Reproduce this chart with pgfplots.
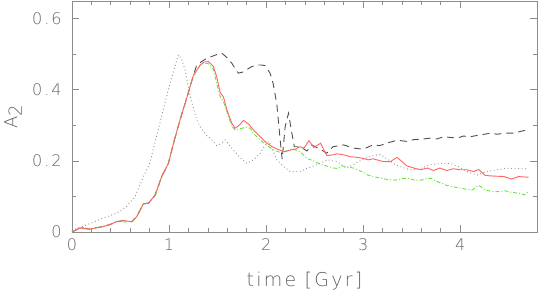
\documentclass[border=0pt]{standalone}
\usepackage{fontspec}
\setmainfont{DejaVu Sans}[UprightFont={* ExtraLight}]
\usepackage{pgfplots}
\pgfplotsset{compat=1.18}
\definecolor{axgrey}{RGB}{140,140,140}
\definecolor{txtgrey}{RGB}{100,100,100}
\definecolor{cred}{RGB}{255,100,100}
\definecolor{cgreen}{RGB}{100,230,60}
\definecolor{cdash}{RGB}{80,80,80}
\definecolor{cdot}{RGB}{145,145,145}
\begin{document}
\begin{tikzpicture}
\begin{axis}[
  scale only axis, width=465pt, height=231pt,
  xmin=0, xmax=4.79, ymin=0, ymax=0.65,
  xtick={0,1,2,3,4}, xticklabels={0,1,2,3,4},
  ytick={0,0.2,0.4,0.6}, yticklabels={0,0.2,0.4,0.6},
  minor x tick num=4, minor y tick num=1,
  tick align=inside, major tick length=7pt, minor tick length=4pt,
  axis line style={axgrey, line width=0.9pt},
  every tick/.style={axgrey, line width=0.8pt},
  tick label style={font=\fontsize{16}{16}\selectfont\addfontfeatures{LetterSpace=12}, text=txtgrey},
  xticklabel style={yshift=-3pt},
  yticklabel style={xshift=-7pt},
  /pgf/number format/assume math mode=true,
  clip=true,
]
\addplot[cdot, line width=0.9pt, dash pattern=on 0.9pt off 2.6pt] coordinates {
(0,0.005) (0.15,0.02) (0.32,0.039) (0.46,0.053) (0.56,0.071) (0.65,0.1) (0.72,0.146) (0.80,0.193) (0.87,0.268) (0.94,0.344) (1.01,0.419) (1.096,0.499) (1.13,0.485) (1.165,0.456) (1.217,0.381) (1.285,0.315) (1.32,0.297) (1.39,0.27) (1.42,0.265) (1.49,0.243) (1.53,0.248) (1.577,0.259) (1.62,0.245) (1.66,0.231) (1.73,0.21) (1.80,0.193) (1.87,0.203) (1.94,0.222) (2.0,0.25) (2.03,0.255) (2.11,0.203) (2.18,0.184) (2.25,0.17) (2.35,0.17) (2.42,0.179) (2.52,0.189) (2.63,0.203) (2.73,0.198) (2.83,0.179) (2.9,0.19) (3.0,0.205) (3.1,0.215) (3.175,0.218) (3.25,0.205) (3.33,0.189) (3.38,0.184) (3.48,0.175) (3.58,0.178) (3.69,0.189) (3.79,0.193) (3.9,0.193) (3.97,0.185) (4.07,0.17) (4.17,0.16) (4.27,0.17) (4.38,0.175) (4.48,0.179) (4.59,0.179) (4.70,0.177)
};
\addplot[cdash, line width=0.9pt, dash pattern=on 7pt off 5pt] coordinates {
(0,0) (0.08,0.011) (0.19,0.008) (0.25,0.012) (0.32,0.015) (0.40,0.022) (0.46,0.029) (0.53,0.032) (0.615,0.029) (0.667,0.043) (0.735,0.079) (0.787,0.081) (0.856,0.104) (0.924,0.156) (0.993,0.193) (1.045,0.25) (1.113,0.315) (1.18,0.375) (1.25,0.44) (1.285,0.47) (1.35,0.482) (1.39,0.489) (1.45,0.495) (1.5,0.5) (1.543,0.503) (1.6,0.49) (1.646,0.475) (1.698,0.452) (1.715,0.447) (1.76,0.45) (1.80,0.457) (1.85,0.465) (1.904,0.47) (1.95,0.47) (1.99,0.468) (2.04,0.447) (2.07,0.42) (2.11,0.36) (2.144,0.26) (2.165,0.205) (2.196,0.297) (2.23,0.334) (2.265,0.278) (2.29,0.24) (2.35,0.24) (2.42,0.228) (2.47,0.245) (2.54,0.235) (2.625,0.222) (2.69,0.24) (2.8,0.245) (2.9,0.236) (3.0,0.233) (3.1,0.245) (3.17,0.243) (3.24,0.25) (3.35,0.258) (3.45,0.255) (3.52,0.26) (3.59,0.261) (3.69,0.264) (3.76,0.262) (3.83,0.268) (3.9,0.266) (3.97,0.264) (4.03,0.27) (4.10,0.268) (4.2,0.273) (4.31,0.278) (4.38,0.275) (4.45,0.278) (4.55,0.278) (4.62,0.283) (4.70,0.288)
};
\addplot[cgreen, line width=0.9pt, dash pattern=on 4pt off 2pt on 1pt off 2pt] coordinates {
(0,0) (0.05,0.006) (0.1,0.013) (0.19,0.009) (0.25,0.01) (0.32,0.017) (0.4,0.02) (0.46,0.03) (0.53,0.028) (0.615,0.03) (0.667,0.045) (0.735,0.08) (0.787,0.082) (0.856,0.1) (0.924,0.155) (0.993,0.195) (1.045,0.245) (1.113,0.318) (1.18,0.378) (1.25,0.44) (1.32,0.468) (1.36,0.474) (1.405,0.474) (1.457,0.458) (1.49,0.42) (1.526,0.381) (1.56,0.367) (1.6,0.335) (1.646,0.297) (1.68,0.287) (1.72,0.29) (1.8,0.295) (1.835,0.292) (1.87,0.277) (1.94,0.259) (2.0,0.245) (2.075,0.231) (2.144,0.224) (2.21,0.228) (2.28,0.233) (2.35,0.226) (2.42,0.207) (2.49,0.2) (2.56,0.19) (2.62,0.186) (2.69,0.18) (2.73,0.179) (2.78,0.186) (2.83,0.184) (2.91,0.179) (3.0,0.168) (3.05,0.16) (3.12,0.155) (3.19,0.151) (3.26,0.147) (3.33,0.146) (3.4,0.15) (3.46,0.151) (3.53,0.146) (3.6,0.146) (3.65,0.15) (3.70,0.151) (3.75,0.143) (3.81,0.137) (3.86,0.131) (3.91,0.128) (4.01,0.123) (4.07,0.12) (4.12,0.118) (4.19,0.131) (4.26,0.118) (4.31,0.115) (4.36,0.113) (4.46,0.116) (4.52,0.112) (4.57,0.11) (4.63,0.108) (4.66,0.104) (4.70,0.113)
};
\addplot[cred, line width=0.9pt] coordinates {
(0,0) (0.08,0.011) (0.19,0.008) (0.25,0.012) (0.32,0.015) (0.40,0.022) (0.46,0.029) (0.53,0.032) (0.615,0.029) (0.667,0.043) (0.735,0.079) (0.787,0.081) (0.856,0.104) (0.924,0.156) (0.993,0.193) (1.045,0.25) (1.113,0.315) (1.18,0.375) (1.25,0.44) (1.32,0.47) (1.36,0.478) (1.405,0.48) (1.457,0.466) (1.49,0.437) (1.526,0.393) (1.56,0.38) (1.595,0.344) (1.646,0.306) (1.68,0.292) (1.725,0.301) (1.766,0.314) (1.818,0.304) (1.87,0.287) (1.938,0.268) (2.007,0.25) (2.075,0.238) (2.144,0.23) (2.196,0.226) (2.25,0.231) (2.3,0.233) (2.35,0.24) (2.39,0.236) (2.44,0.257) (2.49,0.238) (2.54,0.246) (2.56,0.25) (2.6,0.228) (2.625,0.215) (2.69,0.217) (2.73,0.22) (2.8,0.217) (2.866,0.212) (2.935,0.21) (3.003,0.207) (3.05,0.203) (3.1,0.206) (3.14,0.203) (3.21,0.198) (3.28,0.198) (3.347,0.21) (3.4,0.198) (3.45,0.186) (3.52,0.18) (3.59,0.175) (3.66,0.18) (3.725,0.173) (3.79,0.18) (3.86,0.173) (3.93,0.178) (4.0,0.175) (4.07,0.175) (4.14,0.17) (4.19,0.176) (4.25,0.16) (4.3,0.158) (4.37,0.157) (4.45,0.156) (4.53,0.149) (4.6,0.156) (4.704,0.154)
};
\end{axis}
\node[rotate=90, anchor=north, text=txtgrey, font=\fontsize{18}{18}\selectfont\addfontfeatures{LetterSpace=8}, inner sep=0pt]
  at ([xshift=-68pt]current axis.west) {A\raisebox{-0.45ex}{2}};
\node[anchor=base, text=txtgrey, font=\fontsize{19}{19}\selectfont\addfontfeatures{LetterSpace=12}, inner sep=0pt]
  at ([yshift=-55pt]current axis.south) {time [Gyr]};
\path ([xshift=-72pt,yshift=-63pt]current axis.south west) rectangle ([xshift=1pt,yshift=1pt]current axis.north east);
\end{tikzpicture}
\end{document}
